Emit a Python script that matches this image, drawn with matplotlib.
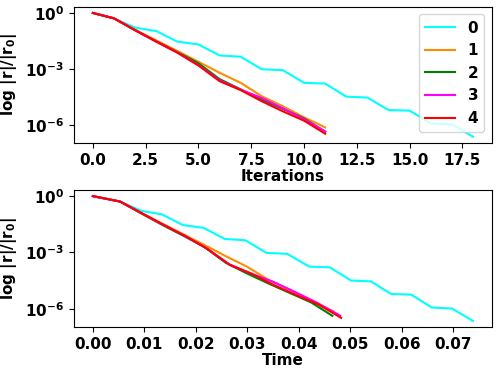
import matplotlib
matplotlib.use("Agg")
import matplotlib.pyplot as plt

# iteration indices
it0 = list(range(19))
it1 = list(range(12))

# log10 of residual ratio (decades) for each run
y0 = [0.0, -0.29, -0.79, -0.97, -1.54, -1.69, -2.28, -2.35, -3.02, -3.07, -3.75, -3.79, -4.49, -4.54, -5.21, -5.24, -5.93, -5.98, -6.64]
y1 = [0.0, -0.29, -0.90, -1.47, -2.04, -2.62, -3.21, -3.75, -4.47, -5.01, -5.60, -6.14]
y2 = [0.0, -0.29, -0.92, -1.52, -2.10, -2.70, -3.55, -4.10, -4.65, -5.15, -5.66, -6.37]
y3 = [0.0, -0.29, -0.93, -1.53, -2.12, -2.80, -3.62, -4.12, -4.56, -5.12, -5.70, -6.36]
y4 = [0.0, -0.29, -0.93, -1.54, -2.13, -2.82, -3.66, -4.14, -4.74, -5.28, -5.78, -6.48]

# wall-clock time at each iteration
t0 = [0, 0.0053, 0.0095, 0.0134, 0.0175, 0.0215, 0.0256, 0.0296, 0.0337, 0.0377, 0.0420, 0.0460, 0.0501, 0.0540, 0.0579, 0.0618, 0.0658, 0.0697, 0.0738]
t1 = [0, 0.0053, 0.0095, 0.0135, 0.0176, 0.0218, 0.0259, 0.0299, 0.0342, 0.0384, 0.0425, 0.0467]
t2 = [0, 0.0053, 0.0094, 0.0134, 0.0175, 0.0216, 0.0258, 0.0298, 0.0341, 0.0382, 0.0424, 0.0465]
t3 = [0, 0.0053, 0.0096, 0.0137, 0.0179, 0.0222, 0.0264, 0.0307, 0.0350, 0.0394, 0.0437, 0.0480]
t4 = [0, 0.0053, 0.0096, 0.0138, 0.0180, 0.0223, 0.0266, 0.0309, 0.0352, 0.0396, 0.0439, 0.0482]

labels = ["0", "1", "2", "3", "4"]
colors = ["cyan", "darkorange", "green", "magenta", "red"]

plt.rcParams["font.weight"] = "bold"
plt.rcParams["axes.labelweight"] = "bold"
plt.rcParams["font.size"] = 11

fig = plt.figure(figsize=(4.99, 3.76), dpi=100)
ax1 = fig.add_axes([0.148, 0.620, 0.838, 0.362])
ax2 = fig.add_axes([0.148, 0.130, 0.838, 0.365])

iters = [it0, it1, it1, it1, it1]
times = [t0, t1, t2, t3, t4]
ys = [y0, y1, y2, y3, y4]

for x, y, c, lab in zip(iters, ys, colors, labels):
    ax1.semilogy(x, [10 ** v for v in y], color=c, lw=1.5, label=lab)
for x, y, c, lab in zip(times, ys, colors, labels):
    ax2.semilogy(x, [10 ** v for v in y], color=c, lw=1.5, label=lab)

ylab = r"log |r|/|r$_\mathbf{0}$|"
ax1.set_ylabel(ylab)
ax2.set_ylabel(ylab)
ax1.set_xlabel("Iterations", labelpad=1)
ax2.set_xlabel("Time", labelpad=1)
ax1.set_yticks([1, 1e-3, 1e-6])
ax2.set_yticks([1, 1e-3, 1e-6])
ax1.minorticks_off()
ax2.minorticks_off()
ax2.set_xticks([0, 0.01, 0.02, 0.03, 0.04, 0.05, 0.06, 0.07])
ax1.legend(loc="upper right")

fig.savefig("out.png", dpi=100)
